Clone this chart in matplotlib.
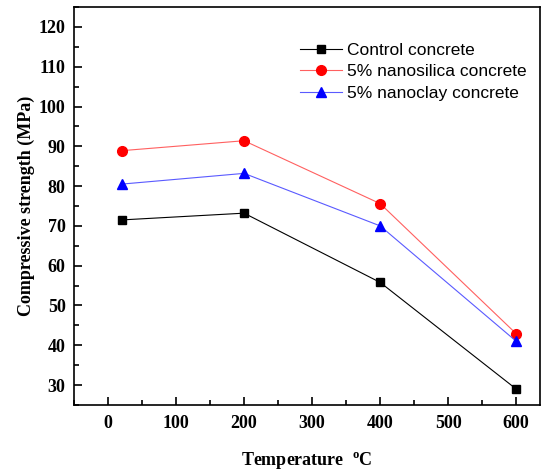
import matplotlib.pyplot as plt
from matplotlib.ticker import MultipleLocator

plt.rcParams['mathtext.fontset'] = 'custom'
plt.rcParams['mathtext.rm'] = 'Liberation Serif:bold'
plt.rcParams['mathtext.bf'] = 'Liberation Serif:bold'

temperature = [20, 200, 400, 600]
control = [71.5, 73.2, 55.8, 29.0]
nanosilica = [88.9, 91.4, 75.6, 42.9]
nanoclay = [80.5, 83.2, 70.0, 41.0]
labels = ["Control concrete", "5% nanosilica concrete", "5% nanoclay concrete"]

fig = plt.figure(figsize=(5.42, 4.74), dpi=100)
ax = fig.add_axes([0.1365, 0.1456, 0.8599, 0.8396])

ax.plot(temperature, control, color='black', lw=0.8, marker='s', ms=6, label=labels[0])
ax.plot(temperature, nanosilica, color='#ff6060', lw=0.8, marker='o', ms=7,
        mfc='red', mec='red', label=labels[1])
ax.plot(temperature, nanoclay, color='#5a5aff', lw=0.8, marker='^', ms=7.5,
        mfc='blue', mec='blue', label=labels[2])

ax.set_xlim(-50, 635)
ax.set_ylim(25, 125)
ax.xaxis.set_major_locator(MultipleLocator(100))
ax.xaxis.set_minor_locator(MultipleLocator(50))
ax.yaxis.set_major_locator(MultipleLocator(10))
ax.yaxis.set_minor_locator(MultipleLocator(5))
ax.tick_params(which='both', direction='in', top=False, right=False, width=1.2)
ax.tick_params(which='major', length=6)
ax.tick_params(which='minor', length=3.5)
for sp in ax.spines.values():
    sp.set_linewidth(1.2)

tickfont = dict(family='Liberation Serif', weight='bold', size=13)
for lab in ax.get_xticklabels() + ax.get_yticklabels():
    lab.set_fontproperties(tickfont)
ax.tick_params(axis='x', pad=7)
ax.tick_params(axis='y', pad=6)

ax.set_ylabel('Compressive strength (MPa)', fontdict=tickfont, labelpad=3)
ax.set_xlabel('Temperature  $^{\\mathrm{o}}$C', fontdict=tickfont, labelpad=14)

leg = ax.legend(loc='upper left', bbox_to_anchor=(0.47, 0.927), frameon=False,
                prop=dict(family='Liberation Sans', size=12.5), handlelength=2.4,
                handletextpad=0.3, labelspacing=0.35, borderaxespad=0)

fig.savefig('out.png', dpi=100)
